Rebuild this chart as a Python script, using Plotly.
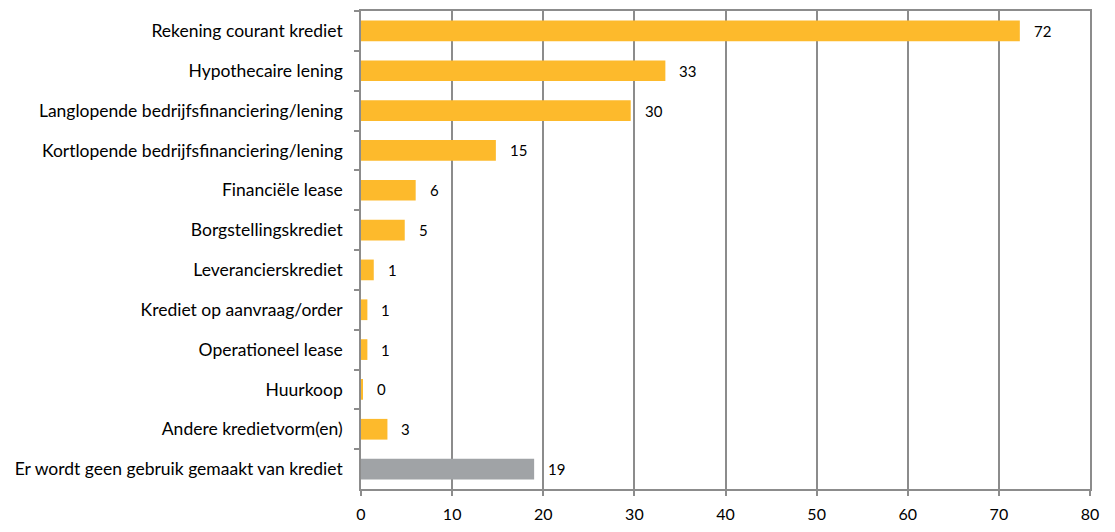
import plotly.graph_objects as go

categories = [
    "Rekening courant krediet",
    "Hypothecaire lening",
    "Langlopende bedrijfsfinanciering/lening",
    "Kortlopende bedrijfsfinanciering/lening",
    "Financiële lease",
    "Borgstellingskrediet",
    "Leverancierskrediet",
    "Krediet op aanvraag/order",
    "Operationeel lease",
    "Huurkoop",
    "Andere kredietvorm(en)",
    "Er wordt geen gebruik gemaakt van krediet",
]
values = [72.3, 33.4, 29.6, 14.8, 6.0, 4.8, 1.4, 0.7, 0.7, 0.2, 2.9, 19.0]

yellow = "#FDBA2C"
grey = "#A0A3A6"
colors = [yellow] * 11 + [grey]
axis_grey = "#8C8C8C"
font_family = "Lato"

fig = go.Figure(
    go.Bar(
        x=values,
        y=categories,
        orientation="h",
        marker=dict(color=colors, line=dict(width=0)),
        width=0.52,
        hoverinfo="x+y",
    )
)

# value labels to the right of each bar
for cat, val in zip(categories, values):
    fig.add_annotation(
        x=val,
        y=cat,
        text=f"{val:.0f}",
        showarrow=False,
        xanchor="left",
        xshift=12,
        font=dict(family=font_family, size=15, color="#000000"),
    )

fig.update_layout(
    width=1115,
    height=532,
    margin=dict(l=361, r=25, t=9, b=38),
    paper_bgcolor="white",
    plot_bgcolor="white",
    showlegend=False,
    font=dict(family=font_family, size=16, color="#000000"),
)

fig.update_xaxes(
    range=[0, 80],
    dtick=10,
    showgrid=True,
    gridcolor=axis_grey,
    gridwidth=1.5,
    showline=True,
    linecolor=axis_grey,
    linewidth=1.5,
    mirror=True,
    ticks="outside",
    ticklen=5,
    tickcolor=axis_grey,
    tickwidth=1.5,
    zeroline=False,
    tickfont=dict(family=font_family, size=16),
    ticklabelstandoff=5,
)

fig.update_yaxes(
    categoryorder="array",
    categoryarray=categories,
    autorange="reversed",
    showline=True,
    linecolor=axis_grey,
    linewidth=1.5,
    mirror=True,
    ticks="outside",
    tickson="boundaries",
    ticklen=5,
    tickcolor=axis_grey,
    tickwidth=1.5,
    showgrid=False,
    tickfont=dict(family=font_family, size=17.5),
    ticklabelstandoff=13,
)

fig.write_html("out.html")
